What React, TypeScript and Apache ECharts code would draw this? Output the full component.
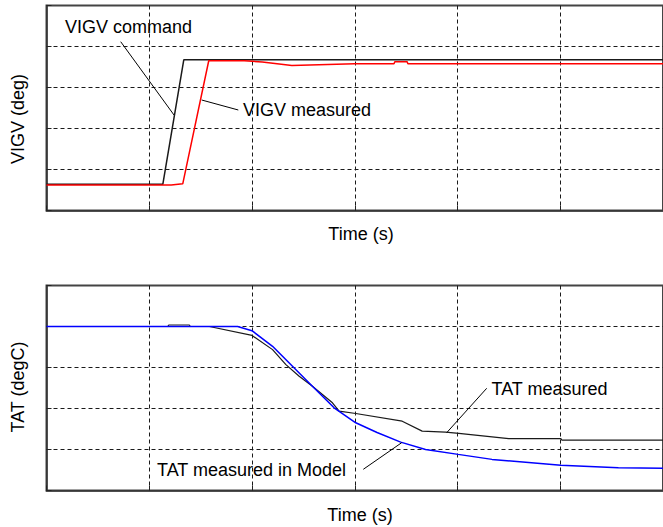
import React, { useEffect, useRef } from "react";
import * as echarts from "echarts";

// Top panel: VIGV (x in grid units, 6 divisions; y in 5 divisions)
const vigvCmdT = [0, 1.132, 1.336, 6];
const vigvCmdV = [0.64, 0.64, 3.676, 3.676];
const vigvMeasT = [0, 1.214, 1.326, 1.579, 1.925, 2.1, 2.388, 3.0, 3.382, 3.39, 3.51, 3.517, 6];
const vigvMeasV = [0.62, 0.62, 0.65, 3.652, 3.652, 3.62, 3.537, 3.578, 3.578, 3.627, 3.627, 3.578, 3.578];

// Bottom panel: TAT
const tatModelT = [0, 1.86, 2.0, 2.2, 2.394, 2.588, 2.799, 3.01, 3.217, 3.447, 3.689, 4.006, 4.336, 5.006, 5.566, 6.0];
const tatModelV = [4.0, 4.0, 3.898, 3.516, 3.029, 2.543, 2.017, 1.652, 1.416, 1.18, 1.002, 0.881, 0.759, 0.613, 0.557, 0.54];
const tatMeasT = [0, 1.18, 1.19, 1.39, 1.4, 1.585, 2.0, 2.2, 2.33, 2.459, 2.588, 2.783, 2.848, 3.01, 3.462, 3.656, 3.883, 4.013, 4.498, 5.006, 5.016, 6.0];
const tatMeasV = [4.0, 4.0, 4.036, 4.036, 4.0, 4.0, 3.783, 3.436, 3.071, 2.786, 2.543, 2.139, 1.934, 1.878, 1.691, 1.448, 1.423, 1.392, 1.263, 1.263, 1.229, 1.229];

const xLabel = "Time (s)";
const topYLabel = "VIGV (deg)";
const botYLabel = "TAT (degC)";

const zip = (a: number[], b: number[]) => a.map((v, i) => [v, b[i]]);

const FONT = "Liberation Sans, Arial, sans-serif";
const FS = 18;

export default function App() {
  const ref = useRef<HTMLDivElement>(null);
  useEffect(() => {
    if (!ref.current) return;
    const chart = echarts.init(ref.current, undefined, { renderer: "svg" });
    const dash = { color: "#1a1a1a", type: [4, 3] as any, width: 1 };
    const xAxisBase = (gridIndex: number) => ({
      type: "value" as const,
      gridIndex,
      min: 0,
      max: 6,
      interval: 1,
      axisLabel: { show: false },
      axisTick: { show: true, inside: true, length: 5, lineStyle: { color: "#222" } },
      axisLine: { show: true, onZero: false, lineStyle: { color: "#333", width: 1.5 } },
      splitLine: { show: true, showMinLine: false, showMaxLine: false, lineStyle: dash },
    });
    const yAxisBase = (gridIndex: number) => ({
      type: "value" as const,
      gridIndex,
      min: 0,
      max: 5,
      interval: 1,
      axisLabel: { show: false },
      axisTick: { show: true, inside: true, length: 5, lineStyle: { color: "#222" } },
      axisLine: { show: true, onZero: false, lineStyle: { color: "#333", width: 1.5 } },
      splitLine: { show: true, showMinLine: false, showMaxLine: false, lineStyle: dash },
    });
    const txt = (x: number, y: number, text: string, opts: any = {}) => ({
      type: "text",
      x,
      y,
      rotation: opts.rotation || 0,
      style: {
        text,
        fill: "#000",
        font: `${FS}px ${FONT}`,
        textAlign: opts.align || "left",
        textVerticalAlign: "middle",
      },
      z: 100,
    });
    const ln = (x1: number, y1: number, x2: number, y2: number) => ({
      type: "line",
      shape: { x1, y1, x2, y2 },
      style: { stroke: "#000", lineWidth: 1 },
      z: 100,
    });
    chart.setOption({
      animation: false,
      grid: [
        { left: 46.5, top: 5.5, width: 618, height: 205, show: true, borderColor: "#444", borderWidth: 2, backgroundColor: "transparent" },
        { left: 46.5, top: 285.5, width: 618, height: 205, show: true, borderColor: "#444", borderWidth: 2, backgroundColor: "transparent" },
      ],
      xAxis: [xAxisBase(0), xAxisBase(1)],
      yAxis: [yAxisBase(0), yAxisBase(1)],
      series: [
        {
          type: "line", xAxisIndex: 0, yAxisIndex: 0, showSymbol: false,
          data: zip(vigvCmdT, vigvCmdV), lineStyle: { color: "#1a1a1a", width: 1.5 }, z: 3,
        },
        {
          type: "line", xAxisIndex: 0, yAxisIndex: 0, showSymbol: false,
          data: zip(vigvMeasT, vigvMeasV), lineStyle: { color: "#ff0000", width: 1.5 }, z: 4,
        },
        {
          type: "line", xAxisIndex: 1, yAxisIndex: 1, showSymbol: false,
          data: zip(tatMeasT, tatMeasV), lineStyle: { color: "#1a1a1a", width: 1.2 }, z: 3,
        },
        {
          type: "line", xAxisIndex: 1, yAxisIndex: 1, showSymbol: false,
          data: zip(tatModelT, tatModelV), lineStyle: { color: "#0000ff", width: 1.5 }, z: 4,
        },
      ],
      graphic: [
        txt(65, 27, "VIGV command"),
        ln(120.7, 41.7, 174, 115),
        txt(243, 110, "VIGV measured"),
        ln(201.7, 100, 238.3, 110),
        txt(361, 233.5, xLabel, { align: "center" }),
        txt(18, 119, topYLabel, { align: "center", rotation: Math.PI / 2 }),
        txt(491.5, 389, "TAT measured"),
        ln(486.7, 388.3, 446.7, 432.7),
        txt(157, 470, "TAT measured in Model"),
        ln(363.3, 469.3, 401.7, 442.7),
        txt(360, 515, xLabel, { align: "center" }),
        txt(18, 387, botYLabel, { align: "center", rotation: Math.PI / 2 }),
      ],
    });
    return () => chart.dispose();
  }, []);
  return (
    <div
      ref={ref}
      style={{ position: "fixed", left: 0, top: 0, width: 663, height: 527, background: "#fff" }}
    />
  );
}
